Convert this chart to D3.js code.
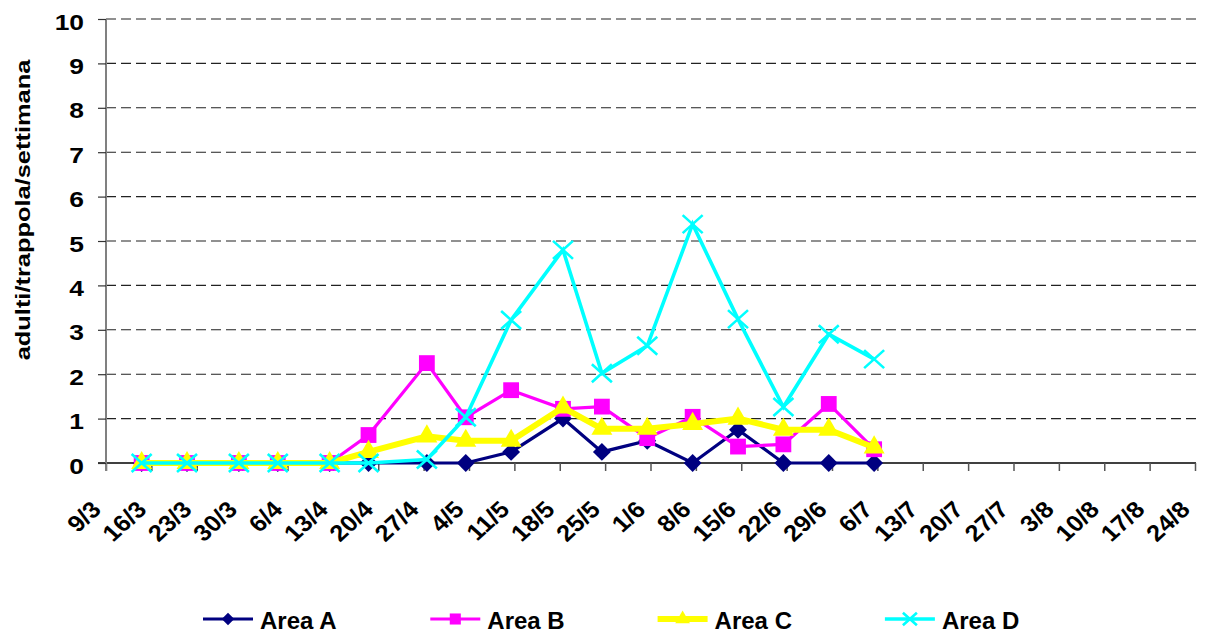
<!DOCTYPE html>
<html>
<head>
<meta charset="utf-8">
<script src="https://cdn.jsdelivr.net/npm/d3@7"></script>
<style>
    body { margin: 0; background: #fff; }
    svg { display: block; }
    svg text { font-family: "Liberation Sans", Arial, sans-serif; font-weight: bold; }
</style>
</head>
<body>
<svg id="chart" width="1206" height="632"></svg>
<script>
// sampling dates (day/month) and weekly axis labels
var dates = ["14/3", "21/3", "29/3", "4/4", "12/4", "18/4", "27/4", "3/5", "10/5", "18/5",
    "24/5", "31/5", "7/6", "14/6", "21/6", "28/6", "5/7"];
var tickLabels = ["9/3", "16/3", "23/3", "30/3", "6/4", "13/4", "20/4", "27/4", "4/5", "11/5",
    "18/5", "25/5", "1/6", "8/6", "15/6", "22/6", "29/6", "6/7", "13/7", "20/7", "27/7",
    "3/8", "10/8", "17/8", "24/8"];
var yTicks = [0, 1, 2, 3, 4, 5, 6, 7, 8, 9, 10];

var areaA = [0, 0, 0, 0, 0, 0, 0, 0, 0.25, 1, 0.25, 0.5, 0, 0.75, 0, 0, 0];
var areaB = [0, 0, 0, 0, 0, 0.63, 2.25, 1.03, 1.64, 1.22, 1.27, 0.56, 1.04, 0.37, 0.42, 1.33, 0.31];
var areaC = [0, 0, 0, 0, 0, 0.25, 0.6, 0.5, 0.5, 1.25, 0.77, 0.77, 0.88, 1.0, 0.75, 0.75, 0.35];
var areaD = [0, 0, 0, 0, 0, 0, 0.08, 1.03, 3.22, 4.8, 2.02, 2.64, 5.38, 3.24, 1.26, 2.9, 2.34];

var seriesNames = ["Area A", "Area B", "Area C", "Area D"];
var seriesValues = [areaA, areaB, areaC, areaD];
var seriesColors = ["#000080", "#ff00ff", "#ffff00", "#00ffff"];
var seriesWidths = [3.2, 3.2, 6, 3.6];

d3.select(window).on('load', init);

function parseDay(s, hour) {
    var p = s.split("/");
    return new Date(Date.UTC(2007, +p[1] - 1, +p[0], hour));
}

function xMark(w, h) {
    return "M" + (-w) + "," + (-h) + "L" + w + "," + h + "M" + (-w) + "," + h + "L" + w + "," + (-h);
}

function drawMarker(sel, i, big) {
    var k = big ? 1 : 0.7;
    var c = seriesColors[i];
    if (i == 0) {
        sel.append("path")
            .attr("d", d3.symbol(d3.symbolSquare, 160 * k * k))
            .attr("transform", "rotate(45)")
            .attr("fill", c);
    } else if (i == 1) {
        sel.append("path")
            .attr("d", d3.symbol(d3.symbolSquare, 250 * k * k))
            .attr("fill", c);
    } else if (i == 2) {
        sel.append("path")
            .attr("d", d3.symbol(d3.symbolTriangle, 190 * k * k))
            .attr("fill", c);
    } else {
        sel.append("path")
            .attr("d", xMark(10 * k, 9 * k))
            .attr("stroke", c)
            .attr("stroke-width", 2.6)
            .attr("fill", "none");
    }
}

function init() {

    var svg = d3.select('#chart');
    var margin = {top: 19, right: 11, bottom: 169, left: 106};
    var width = 1206;
    var height = 632;

    var x = d3.scaleUtc()
        .domain([parseDay(tickLabels[0], 0), parseDay(tickLabels[tickLabels.length - 1], 0)])
        .range([margin.left, width - margin.right]);

    var y = d3.scaleLinear()
        .domain([0, 10])
        .range([height - margin.bottom, margin.top]);

    // dashed grid
    svg.append("g")
        .selectAll("line")
        .data(yTicks.slice(1))
        .enter()
        .append("line")
        .attr("x1", margin.left)
        .attr("x2", width - margin.right + 1)
        .attr("y1", function(d) { return y(d); })
        .attr("y2", function(d) { return y(d); })
        .attr("stroke", "#222")
        .attr("stroke-width", 1.1)
        .attr("stroke-dasharray", "10,5");

    //Create X axis
    var xAxis = d3.axisBottom(x)
        .tickValues(tickLabels.map(function(d) { return parseDay(d, 0); }))
        .tickSize(8)
        .tickSizeOuter(0)
        .tickFormat(function(d, i) { return tickLabels[i]; });

    var gx = svg.append("g")
        .attr("transform", "translate(0," + y(0) + ")")
        .call(xAxis);
    gx.select(".domain").attr("stroke", "#000").attr("stroke-width", 1.5)
        .attr("d", "M" + (margin.left - 8) + ",0H" + (width - margin.right + 1));
    gx.selectAll(".tick line").attr("stroke", "#555").attr("stroke-width", 1.5);
    gx.selectAll(".tick text")
        .attr("fill", "#000")
        .attr("font-size", 23)
        .attr("text-anchor", "end")
        .attr("x", null)
        .attr("y", null)
        .attr("dy", null)
        .attr("transform", "translate(-4,48) scale(1.1,1) rotate(-45)");

    //Create Y axis
    var yAxis = d3.axisLeft(y)
        .tickValues(yTicks)
        .tickSize(8)
        .tickSizeOuter(0);

    var gy = svg.append("g")
        .attr("transform", "translate(" + margin.left + ",0)")
        .call(yAxis);
    gy.select(".domain").attr("stroke", "#808080").attr("stroke-width", 2)
        .attr("d", "M0," + y(10) + "V" + (y(0) + 8));
    gy.selectAll(".tick line").attr("stroke", "#333").attr("stroke-width", 1.2);
    gy.selectAll(".tick text")
        .attr("fill", "#000")
        .attr("font-size", 22)
        .attr("x", null)
        .attr("dy", null)
        .attr("transform", "translate(-22,10) scale(1.2,1)");

    svg.append("text")
        .attr("transform", "translate(30," + ((y(0) + y(10)) / 2 - 31) + ") rotate(-90) scale(1.27,1)")
        .attr("text-anchor", "middle")
        .attr("font-size", 20)
        .text("adulti/trappola/settimana");

    var line = d3.line()
        .x(function(d, i) { return x(parseDay(dates[i], 12)); })
        .y(function(d) { return y(d); });

    seriesValues.forEach(function(vals, s) {
        var g = svg.append("g");
        g.append("path")
            .datum(vals)
            .attr("d", line)
            .attr("fill", "none")
            .attr("stroke", seriesColors[s])
            .attr("stroke-width", seriesWidths[s])
            .attr("stroke-linejoin", "miter");
        g.selectAll("g.m")
            .data(vals)
            .enter()
            .append("g")
            .attr("class", "m")
            .attr("transform", function(d, i) {
                return "translate(" + x(parseDay(dates[i], 12)) + "," + y(d) + ")";
            })
            .each(function() { drawMarker(d3.select(this), s, true); });
    });

    // legend
    var leg = svg.append("g")
        .selectAll("g")
        .data(seriesNames)
        .enter()
        .append("g")
        .attr("transform", function(d, i) { return "translate(" + (203 + i * 227.3) + ",619)"; });

    leg.append("line")
        .attr("x1", 0)
        .attr("x2", 50)
        .attr("stroke", function(d, i) { return seriesColors[i]; })
        .attr("stroke-width", function(d, i) { return seriesWidths[i]; });

    leg.append("g")
        .attr("transform", "translate(25,0)")
        .each(function(d, i) { drawMarker(d3.select(this), i, false); });

    leg.append("text")
        .attr("transform", "translate(57,9.5)")
        .attr("font-size", 24)
        .text(function(d) { return d; });
}
</script>
</body>
</html>
